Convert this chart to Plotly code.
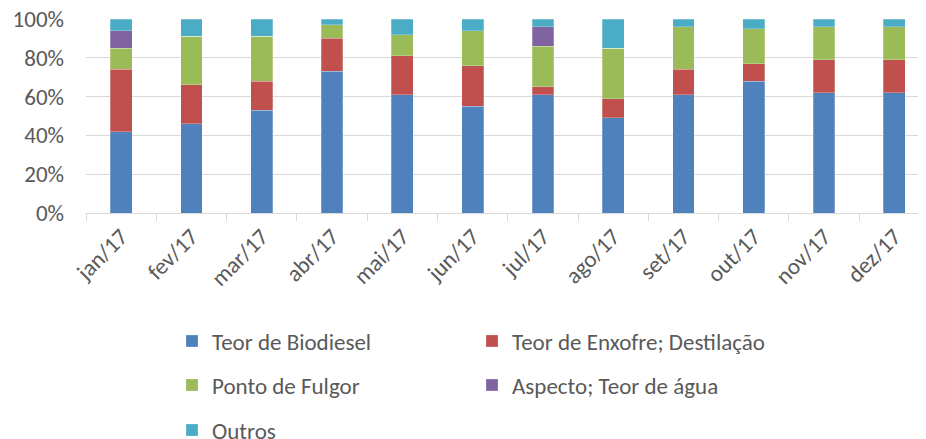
import plotly.graph_objects as go

months = ["jan/17", "fev/17", "mar/17", "abr/17", "mai/17", "jun/17",
          "jul/17", "ago/17", "set/17", "out/17", "nov/17", "dez/17"]
biodiesel = [42, 46, 53, 73, 61, 55, 61, 49, 61, 68, 62, 62]
enxofre = [32, 20, 15, 17, 20, 21, 4, 10, 13, 9, 17, 17]
fulgor = [11, 25, 23, 7, 11, 18, 21, 26, 22, 18, 17, 17]
aspecto = [9, 0, 0, 0, 0, 0, 10, 0, 0, 0, 0, 0]
outros = [6, 9, 9, 3, 8, 6, 4, 15, 4, 5, 4, 4]

series = [
    ("Teor de Biodiesel", biodiesel, "#4F81BD", "legend"),
    ("Teor de Enxofre; Destilação", enxofre, "#C0504D", "legend"),
    ("Ponto de Fulgor", fulgor, "#9BBB59", "legend2"),
    ("Aspecto; Teor de água", aspecto, "#8064A2", "legend2"),
    ("Outros", outros, "#4BACC6", "legend3"),
]

FONT = "Carlito, 'Liberation Sans Narrow', 'Open Sans', sans-serif"
GRAY = "#595959"
FS = 23
OFF = 8  # page body margin offset

fig = go.Figure()
for name, vals, color, leg in series:
    fig.add_trace(go.Bar(
        name=name, x=months, y=vals, legend=leg,
        marker=dict(color=color, line=dict(color="rgba(255,255,255,0.5)", width=0.5)),
    ))

legcommon = dict(orientation="h", xref="container", yref="container", traceorder="normal",
                 xanchor="left", yanchor="middle", entrywidth=255, entrywidthmode="pixels",
                 font=dict(family=FONT, size=FS, color=GRAY), bgcolor="rgba(0,0,0,0)")
H = 439
fig.update_layout(
    barmode="stack",
    barnorm="percent",
    bargap=0.69,
    width=926, height=H,
    margin=dict(l=86 - OFF, r=OFF, t=19 - OFF, b=226 + OFF, autoexpand=False),
    paper_bgcolor="white", plot_bgcolor="white",
    font=dict(family=FONT, size=FS, color=GRAY),
    xaxis=dict(
        range=[-0.5, 11.45], tickangle=-45, ticks="outside", tickson="boundaries",
        ticklen=7, tickcolor="#d9d9d9", showline=True, linecolor="#d9d9d9", linewidth=1,
        showgrid=False, tickfont=dict(family=FONT, size=FS, color=GRAY),
    ),
    yaxis=dict(
        range=[0, 100], dtick=20, ticksuffix="%", showgrid=True, gridcolor="#d9d9d9",
        gridwidth=1, zeroline=False, ticks="", ticklabelstandoff=21,
        ticklabeloverflow="allow",
        tickfont=dict(family=FONT, size=FS, color=GRAY),
    ),
    legend=dict(x=(172 - OFF) / 926, y=1 - (341 - OFF) / H, **legcommon),
    legend2=dict(x=(172 - OFF) / 926, y=1 - (385 - OFF) / H, **legcommon),
    legend3=dict(x=(172 - OFF) / 926, y=1 - (430 - OFF) / H, **legcommon),
)

fig.write_html("out.html")
